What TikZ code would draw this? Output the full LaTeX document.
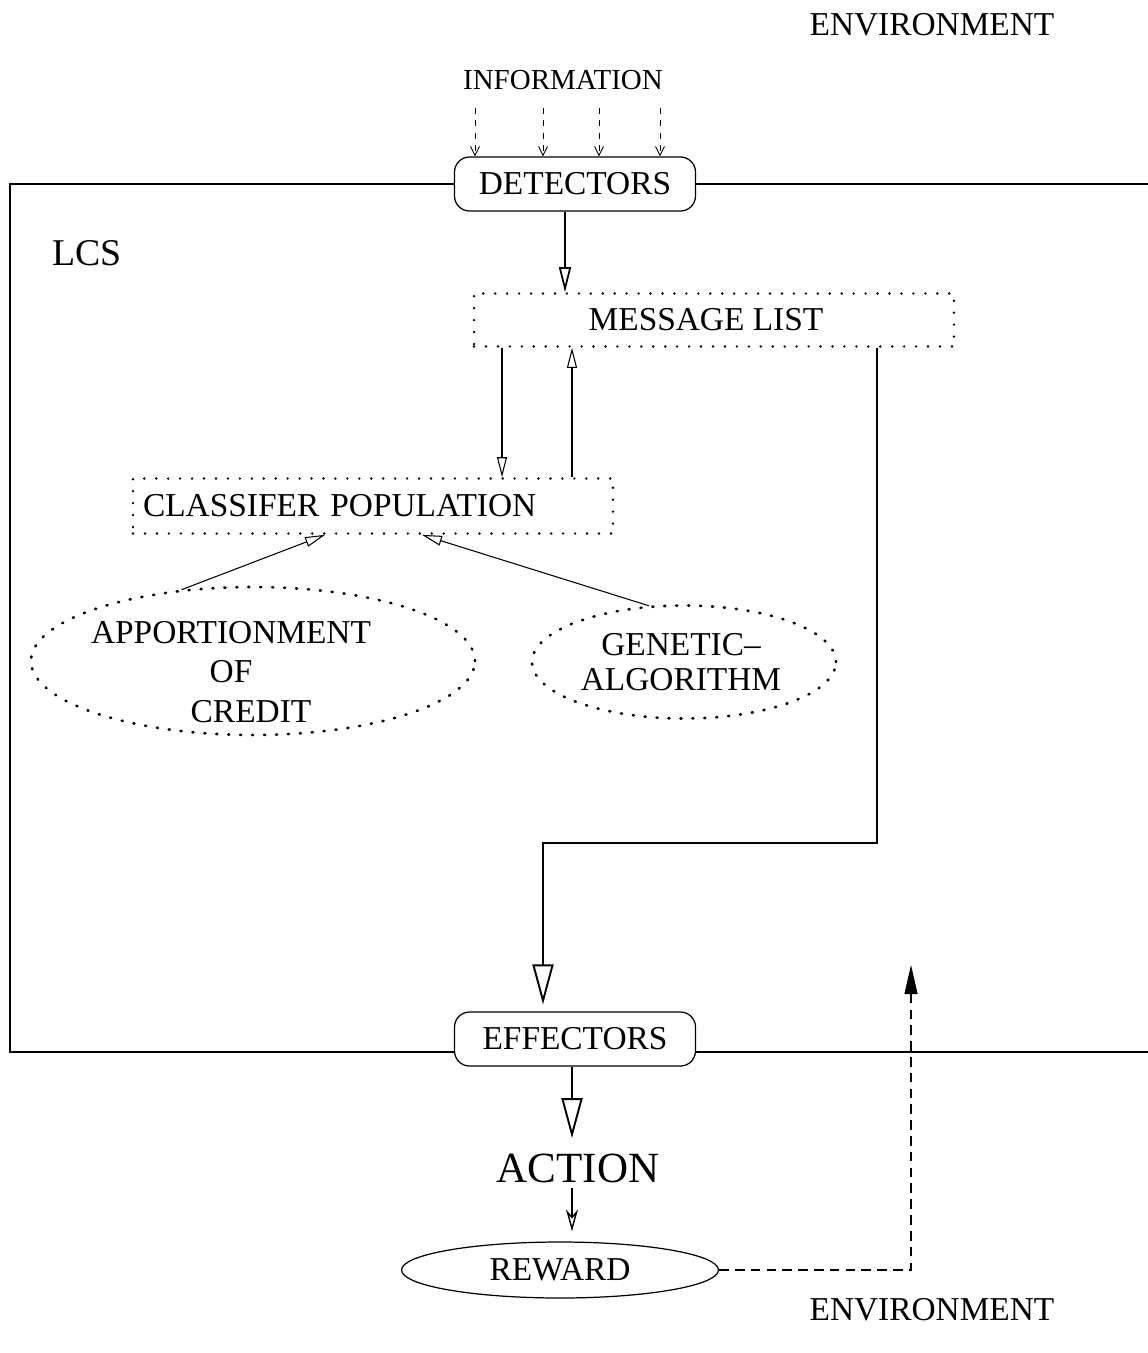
\documentclass[tikz,border=0pt]{standalone}
\usepackage{fontspec}
\setmainfont{Liberation Serif}
\usetikzlibrary{arrows.meta,shapes.geometric}

\tikzset{
  lbl/.style={font=\fontsize{19}{23}\selectfont},
  unitbox/.style={lbl,draw,line width=0.7pt,rounded corners=0.3cm,minimum width=4.82cm,minimum height=1.08cm,inner sep=0pt},
  dotted box/.style={lbl,draw,line width=1.5pt,dash pattern=on 0pt off 6.8pt,line cap=round,minimum width=9.6cm,inner sep=0pt},
  dotted ell/.style={draw,ellipse,line width=1.5pt,dash pattern=on 0.6pt off 6.2pt,line cap=round,inner sep=0pt},
  frame/.style={line width=1pt},
  infoarrow/.style={line width=0.5pt,dash pattern=on 3.5pt off 3.5pt,-{Straight Barb[length=0.18cm,width=0.18cm]}},
  thinarrow/.style={line width=0.6pt,-{Triangle[open,length=0.4cm,width=0.2cm]}},
  midarrow/.style={line width=1pt,-{Triangle[open,length=0.5cm,width=0.24cm]}},
  bigarrow/.style={line width=1.1pt,-{Triangle[open,length=0.8cm,width=0.42cm]}},
  fbarrow/.style={line width=0.6pt,dash pattern=on 5.5pt off 3.5pt,-{Triangle[length=0.58cm,width=0.26cm]}}
}

\begin{document}
\begin{tikzpicture}[x=0.02cm,y=-0.02cm]
    \useasboundingbox (0,0) rectangle (1148,1353);
    % labels outside the system
    \node[font=\fontsize{19}{22}\selectfont] (envtop) at (932,25) {ENVIRONMENT};
    \node[font=\fontsize{19}{22}\selectfont] (envbot) at (932,1310) {ENVIRONMENT};
    \node[font=\fontsize{16.5}{20}\selectfont] (info) at (563,80) {INFORMATION};
    \node[font=\fontsize{21.5}{26}\selectfont] (lcs) at (87,253) {LCS};

    % detectors, effectors and the system frame
    \node[unitbox] (det) at (575,184) {DETECTORS};
    \node[unitbox] (eff) at (575,1039) {EFFECTORS};
    \draw[frame] (det.west) -- (det.west -| 10,0) -- (10,1052) -- (eff.west |- 10,1052);
    \draw[frame] (det.east) -- (det.east -| 1148,0);
    \draw[frame] (eff.east |- 10,1052) -- (1148,1052);

    % inner components
    \node[dotted box,minimum height=1.06cm] (ml) at (714,320) {\hspace{-0.32cm}MESSAGE LIST};
    \node[dotted box,minimum height=1.1cm,text width=9.2cm,align=left,inner xsep=0.2cm] (cp) at (373,506) {CLASSIFER POPULATION};
    \node[dotted ell,minimum width=8.88cm,minimum height=2.96cm] (apt) at (253,661) {};
    \node[lbl,align=center,font=\fontsize{19}{22.7}\selectfont] (apttext) at (231,672) {APPORTIONMENT\\OF\\\hspace{0.8cm}CREDIT};
    \node[dotted ell,minimum width=6.08cm,minimum height=2.26cm] (gen) at (684,662) {};
    \node[lbl,align=center,font=\fontsize{19}{19.8}\selectfont] (gentext) at (681,662) {GENETIC--\\ALGORITHM};

    % output side
    \node[font=\fontsize{24.5}{29}\selectfont,inner sep=0pt] (act) at (578,1168) {ACTION};
    \node[lbl,draw,ellipse,line width=0.7pt,minimum width=6.34cm,minimum height=1.12cm,inner sep=0pt] (rew) at (560,1270) {REWARD};
    \coordinate (fbtop) at (911,965);

    % information flow
    \foreach \x in {475,543,599,660}
    {
        \coordinate (in\x) at (\x,108);
        \draw[infoarrow] (in\x) -- (det.north -| in\x);
    }
    \draw[midarrow] (det.south -| 565,0) -- (ml.north -| 565,0);
    \draw[thinarrow] (ml.south -| 502,0) -- (cp.north -| 502,0);
    \draw[thinarrow] (cp.north -| 572,0) -- (ml.south -| 572,0);
    \draw[thinarrow] (apt.135) -- (cp.south -| 325,0);
    \draw[thinarrow] (gen.122) -- (cp.south -| 422,0);
    \draw[bigarrow,shorten >=0.14cm] (ml.south -| 877,0) -- (877,843) -| (eff.north -| 543,0);
    \draw[bigarrow,shorten >=0.3cm] (eff.south -| 572,0) -- (act.north -| 572,0);
    \draw[line width=0.8pt,shorten <=0.1cm,shorten >=0.2cm,-{Stealth[open,length=0.44cm,width=0.24cm,inset=0.14cm]}] (act.south -| 572,0) -- (rew.north -| 572,0);
    \draw[fbarrow] (rew.east) -| (fbtop);
\end{tikzpicture}
\end{document}
